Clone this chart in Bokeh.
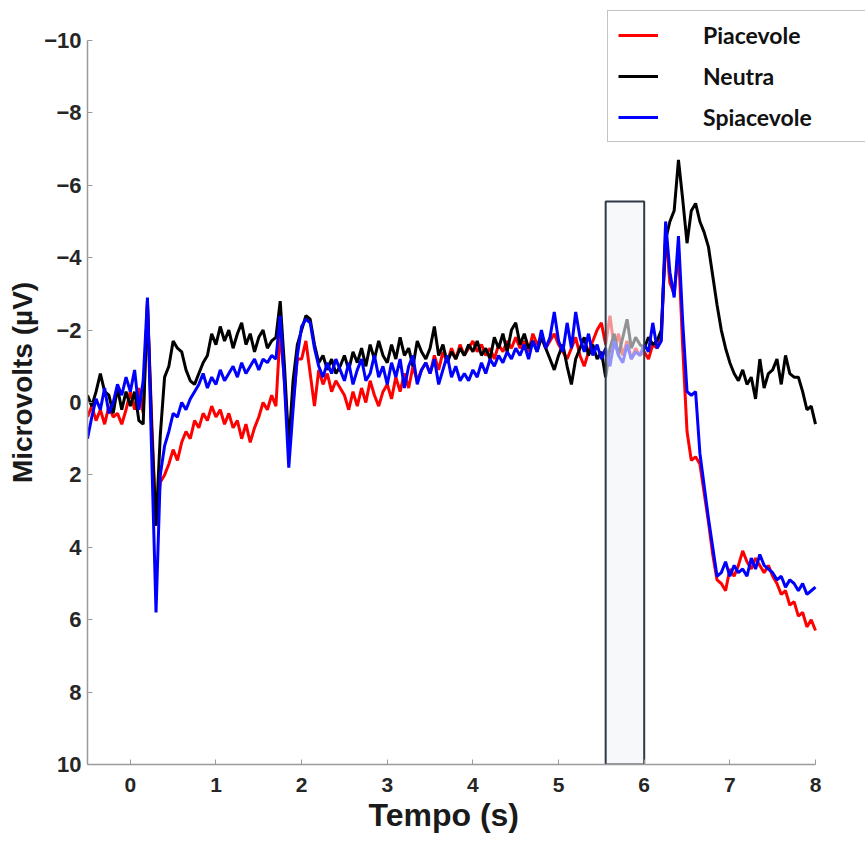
import numpy as np
from bokeh.plotting import figure
from bokeh.models import Range1d, FixedTicker, Legend, LegendItem, Title
from bokeh.embed import file_html
from bokeh.resources import INLINE

# Sampling grid (s)
tempo = np.round(np.arange(-0.5, 8.0001, 0.05), 2)

# Grand-average traces (µV), one value per sample
piacevole = [
    0.4, 0.1, 0.5, 0.2, 0.6, 0.1, 0.4, 0.3, 0.6, 0.2,
    -0.3, 0.2, -0.4, 0.3, -2.7, 0.5, 3.4, 2.2, 2.0, 1.7,
    1.3, 1.6, 1.1, 0.8, 1.0, 0.5, 0.7, 0.3, 0.5, 0.1,
    0.4, 0.2, 0.6, 0.3, 0.7, 0.5, 1.0, 0.6, 1.1, 0.7,
    0.4, 0.0, 0.2, -0.2, 0.1, -2.0, -0.6, 1.3, 0.0, -1.2,
    -1.2, -1.7, -0.8, 0.1, -0.9, -0.5, -0.8, -0.3, -0.6, -0.4,
    -0.2, 0.2, -0.3, 0.1, -0.4, 0.0, -0.6, -0.2, 0.1, -0.3,
    -0.5, -0.1, -0.7, -0.3, -0.8, -0.4, -1.0, -0.6, -0.9, -1.1,
    -0.8, -1.3, -0.9, -1.4, -1.1, -1.5, -1.2, -1.6, -1.3, -1.5,
    -1.7, -1.4, -1.6, -1.3, -1.5, -1.2, -1.6, -1.4, -1.7, -1.5,
    -1.8, -1.5, -1.7, -1.4, -1.9, -1.6, -1.8, -1.5, -1.7, -1.9,
    -1.6, -1.4, -1.2, -1.5, -1.8, -1.3, -1.0, -1.4, -1.7, -2.0,
    -2.2, -1.6, -2.4, -1.5, -1.9, -1.3, -1.7, -1.2, -1.5, -1.3,
    -1.4, -1.2, -1.6, -1.5, -1.8, -4.7, -3.3, -3.0, -4.2, -1.5,
    0.8, 1.6, 1.5, 1.7, 2.5, 3.3, 4.2, 4.9, 5.0, 5.2,
    4.6, 4.8, 4.5, 4.1, 4.4, 4.6, 4.3, 4.5, 4.7, 4.5,
    4.8, 5.0, 5.3, 5.2, 5.6, 5.5, 5.9, 5.8, 6.2, 6.0,
    6.3,
]

neutra = [
    -0.2, 0.1, -0.3, -0.8, -0.3, -0.2, 0.3, -0.4, 0.2, -0.3,
    0.1, -0.3, 0.5, 0.6, -2.8, 0.8, 3.4, 0.9, -0.7, -1.0,
    -1.7, -1.5, -1.4, -0.9, -0.6, -0.5, -0.8, -1.1, -1.3, -1.9,
    -1.6, -2.1, -1.7, -2.0, -1.5, -1.9, -2.2, -1.6, -1.9, -1.4,
    -1.8, -2.0, -1.5, -1.7, -1.8, -2.8, -1.0, 1.2, -0.6, -1.6,
    -2.0, -2.4, -2.3, -1.6, -1.1, -1.3, -0.9, -1.2, -0.8, -1.0,
    -1.3, -0.9, -1.4, -1.1, -1.5, -1.0, -1.6, -1.2, -1.7, -1.3,
    -1.1, -1.6, -1.2, -1.8, -1.3, -1.5, -1.0, -1.7, -1.4, -1.2,
    -1.5, -2.1, -1.3, -1.6, -1.1, -1.4, -1.2, -1.5, -1.3, -1.6,
    -1.4, -1.7, -1.3, -1.5, -1.2, -1.8, -1.5, -1.9, -1.4, -2.0,
    -2.2, -1.6, -1.9, -1.5, -1.7, -1.4, -1.8, -1.5, -1.2, -0.9,
    -1.3, -1.6, -1.0, -0.5, -1.2, -1.5, -1.8, -1.3, -1.6, -1.2,
    -1.4, -0.7, -1.5, -1.9, -1.3, -1.8, -2.3, -1.5, -1.8, -1.6,
    -1.5, -1.8, -1.6, -1.7, -2.0, -4.5, -5.0, -5.3, -6.7, -5.6,
    -4.4, -5.3, -5.5, -5.0, -4.7, -4.3, -3.5, -2.7, -2.0, -1.5,
    -1.1, -0.8, -0.6, -0.9, -0.5, -0.7, -0.1, -1.2, -0.4, -0.8,
    -0.9, -1.2, -0.5, -1.3, -0.8, -0.7, -0.7, -0.3, 0.2, 0.1,
    0.6,
]

spiacevole = [
    1.0, 0.4, -0.1, 0.2, -0.4, 0.3, 0.0, -0.5, -0.2, -0.7,
    -0.3, -0.9, 0.2, -0.6, -2.9, 1.5, 5.8, 2.0, 1.2, 0.8,
    0.3, 0.4, 0.0, 0.2, -0.1, -0.3, -0.5, -0.8, -0.4, -0.7,
    -0.5, -0.9, -0.6, -0.8, -1.0, -0.7, -1.1, -0.8, -1.0, -1.2,
    -0.9, -1.2, -1.1, -1.3, -1.2, -2.4, -0.5, 1.8, 0.2, -1.3,
    -2.1, -2.3, -2.2, -1.5, -1.0, -0.7, -1.1, -0.8, -1.2, -0.9,
    -0.6, -1.1, -0.5, -0.9, -1.2, -0.6, -0.8, -1.3, -0.7, -1.0,
    -0.5, -1.1, -0.7, -1.2, -0.4, -1.0, -1.3, -0.5, -0.9, -1.1,
    -0.8, -1.2, -0.5, -0.9, -1.3, -0.7, -1.0, -0.6, -0.8, -0.6,
    -0.9, -0.7, -1.1, -0.8, -1.2, -1.0, -1.3, -1.1, -1.4, -1.2,
    -1.5, -1.3, -1.6, -1.2, -1.7, -1.4, -2.0, -1.5, -1.8, -2.5,
    -1.7, -1.4, -2.2, -1.5, -2.5, -1.8, -1.4, -1.9, -1.3, -1.6,
    -1.2, -1.5, -1.0, -1.7, -1.3, -1.1, -1.6, -1.2, -1.4, -1.3,
    -1.6, -1.4, -2.2, -1.5, -1.7, -5.0, -3.6, -2.9, -4.6, -2.2,
    -0.3, -0.2, -0.3, 1.4, 2.3, 3.2, 4.0, 4.8, 4.7, 4.4,
    4.8, 4.5, 4.7, 4.6, 4.8, 4.3, 4.6, 4.2, 4.5, 4.6,
    4.7, 4.9, 4.8, 5.1, 4.9, 5.0, 5.2, 5.0, 5.3, 5.2,
    5.1,
]

# Analysis window highlighted on the plot
window_start, window_end = 5.55, 6.0
window_top, window_bottom = -5.55, 10.0

x_ticks = [0, 1, 2, 3, 4, 5, 6, 7, 8]
y_ticks = [-10, -8, -6, -4, -2, 0, 2, 4, 6, 8, 10]
x_lim = (-0.5, 8.0)
y_lim = (10, -10)

# The frame runs to the top and right edges of the page so the legend box
# can sit above and beside the axes; the axis lines are bounded to the data limits.
left_px, right_px, top_px, bottom_px = 87, 50, 40, 86
px_per_s = (865 - left_px - right_px) / (x_lim[1] - x_lim[0])
px_per_uv = (850 - bottom_px - top_px) / (y_lim[0] - y_lim[1])

p = figure(
    width=865, height=850,
    x_range=Range1d(x_lim[0], x_lim[1] + right_px / px_per_s),
    y_range=Range1d(y_lim[0], y_lim[1] - top_px / px_per_uv),   # negative up
    output_backend="svg", toolbar_location=None,
    min_border_left=left_px, min_border_right=0,
    min_border_top=0, min_border_bottom=bottom_px,
)
p.outline_line_color = None
p.xgrid.visible = False
p.ygrid.visible = False
p.background_fill_color = "white"
p.border_fill_color = "white"

r_red = p.line(tempo, piacevole, line_color="#ff0000", line_width=3)
r_blk = p.line(tempo, neutra, line_color="#000000", line_width=3)
r_blu = p.line(tempo, spiacevole, line_color="#0000ff", line_width=3)

p.quad(left=[window_start], right=[window_end], top=[window_top], bottom=[window_bottom],
       fill_color="#f1f3f6", fill_alpha=0.6, line_color="#2f3a46", line_width=2)

for ax in (p.xaxis, p.yaxis):
    ax.axis_line_color = "#9a9a9a"
    ax.axis_line_width = 1.5
    ax.major_tick_line_color = "#9a9a9a"
    ax.major_tick_in = 5
    ax.major_tick_out = 0
    ax.minor_tick_line_color = None
    ax.major_label_text_font = "Liberation Sans"
    ax.major_label_text_font_style = "bold"
    ax.major_label_text_color = "#262626"
    ax.axis_label_text_font = "Liberation Sans"
    ax.axis_label_text_font_style = "bold"
    ax.axis_label_text_color = "#1a1a1a"

p.xaxis.bounds = x_lim
p.yaxis.bounds = (min(y_lim), max(y_lim))
p.xaxis.ticker = FixedTicker(ticks=x_ticks)
p.yaxis.ticker = FixedTicker(ticks=y_ticks)
p.xaxis.major_label_text_font_size = "21px"
p.yaxis.major_label_text_font_size = "22px"
p.xaxis.major_label_standoff = 13
p.yaxis.major_label_standoff = 6
p.yaxis.axis_label = "Microvolts (µV)"
p.yaxis.axis_label_text_font_size = "28px"
p.yaxis.axis_label_standoff = 3

# x-axis title, centred under the data span rather than the whole frame
p.add_layout(Title(text="Tempo (s)", align="left", offset=281, standoff=0,
                   vertical_align="bottom",
                   text_font="Liberation Sans", text_font_style="bold",
                   text_font_size="32px", text_color="#1a1a1a"), "below")

legend = Legend(
    items=[
        LegendItem(label="Piacevole", renderers=[r_red]),
        LegendItem(label="Neutra", renderers=[r_blk]),
        LegendItem(label="Spiacevole", renderers=[r_blu]),
    ],
    location=(520, 850 - bottom_px - top_px + 40 - 142),
    glyph_width=40, glyph_height=20,
    label_standoff=45, label_width=160, label_height=20,
    spacing=13, padding=10, margin=0,
    label_text_font="Lato", label_text_font_style="bold",
    label_text_font_size="23px", label_text_color="#111111",
    border_line_color="#8a8a8a", border_line_width=1.5,
    background_fill_color="white", background_fill_alpha=1.0,
)
p.add_layout(legend, "center")

open("out.html", "w").write(file_html(p, INLINE))
